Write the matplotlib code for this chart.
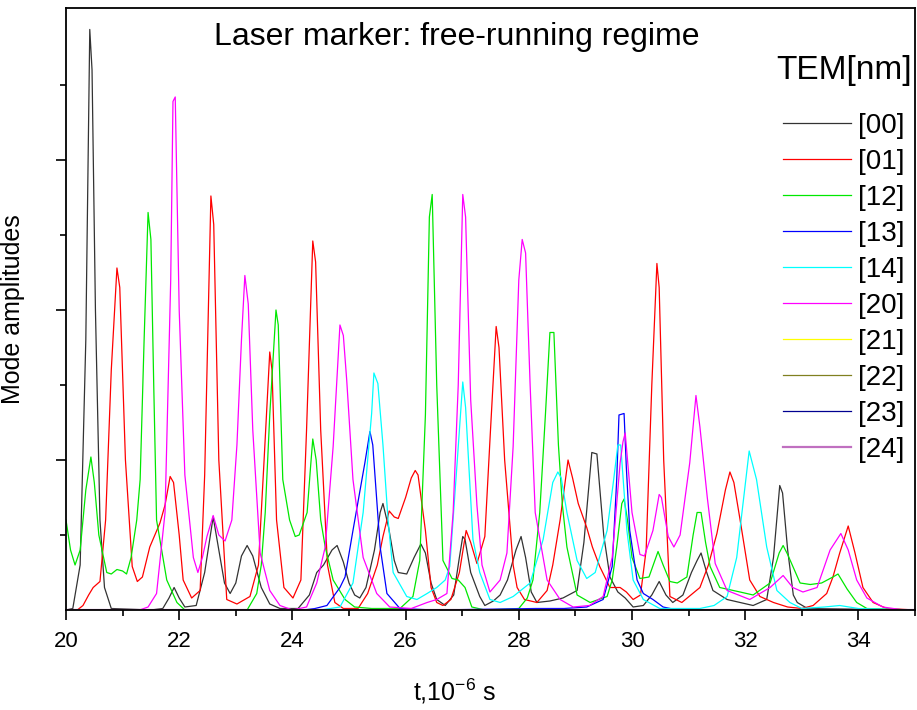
import numpy as np
import matplotlib
matplotlib.use("Agg")
import matplotlib.pyplot as plt

plt.rcParams['font.family'] = ['Liberation Sans', 'DejaVu Sans']
plt.rcParams['mathtext.default'] = 'regular'

# mode labels and colours
modes = ["[00]", "[01]", "[12]", "[13]", "[14]", "[20]", "[21]", "[22]", "[23]", "[24]"]
colors = ["#333333", "#ff0000", "#00e800", "#0000ff", "#00ffff", "#ff00ff",
          "#ffff00", "#808020", "#000090", "#c070c0"]

# [00] (dark curve)
t00 = [20.0, 20.12, 20.25, 20.35, 20.42, 20.46, 20.52, 20.6, 20.68, 20.8, 21.5, 21.71, 21.82, 21.91, 22.0,
       22.1, 22.3, 22.45, 22.6, 22.7, 22.8, 22.9, 23.0, 23.1, 23.2, 23.3, 23.45, 23.6, 23.78, 24.1, 24.3,
       24.43, 24.55, 24.7, 24.79, 24.9, 25.0, 25.1, 25.19, 25.3, 25.45, 25.55, 25.6, 25.7, 25.8, 25.87,
       26.02, 26.15, 26.27, 26.35, 26.45, 26.55, 26.7, 26.85, 26.95, 27.01, 27.05, 27.15, 27.31, 27.4,
       27.55, 27.67, 27.8, 27.95, 28.04, 28.12, 28.22, 28.32, 28.55, 28.78, 29.03, 29.15, 29.29, 29.38,
       29.5, 29.61, 29.75, 29.88, 30.02, 30.2, 30.35, 30.48, 30.6, 30.72, 30.9, 31.05, 31.15, 31.22,
       31.32, 31.43, 31.68, 32.14, 32.38, 32.5, 32.61, 32.66, 32.75, 32.85, 32.92, 33.1, 35.0]
a00 = [0, 0.01, 0.3, 1.8, 3.87, 3.6, 2.0, 0.6, 0.15, 0.01, 0.0, 0.01, 0.08, 0.15, 0.08,
       0.02, 0.03, 0.25, 0.62, 0.4, 0.18, 0.11, 0.18, 0.36, 0.43, 0.36, 0.15, 0.04, 0.01, 0.01, 0.1,
       0.25, 0.3, 0.4, 0.43, 0.32, 0.18, 0.1, 0.08, 0.15, 0.4, 0.65, 0.71, 0.55, 0.33, 0.25,
       0.24, 0.35, 0.44, 0.38, 0.18, 0.07, 0.03, 0.1, 0.35, 0.49, 0.47, 0.25, 0.09, 0.03,
       0.06, 0.1, 0.2, 0.4, 0.49, 0.35, 0.12, 0.05, 0.06, 0.08, 0.13, 0.45, 1.05, 1.04,
       0.5, 0.22, 0.12, 0.08, 0.02, 0.03, 0.1, 0.19, 0.1, 0.05, 0.1, 0.25, 0.33, 0.38,
       0.25, 0.13, 0.07, 0.03, 0.07, 0.35, 0.83, 0.78, 0.4, 0.1, 0.05, 0.01, 0.0]

# [01]
t01 = [20.0, 20.2, 20.3, 20.4, 20.48, 20.6, 20.7, 20.8, 20.9, 20.95, 21.05, 21.17, 21.26, 21.35, 21.48,
       21.66, 21.75, 21.84, 21.9, 22.0, 22.07, 22.22, 22.37, 22.45, 22.56, 22.61, 22.7, 22.84, 23.02,
       23.25, 23.4, 23.5, 23.6, 23.64, 23.72, 23.85, 24.01, 24.15, 24.25, 24.36, 24.41, 24.5, 24.62,
       24.75, 24.9, 25.16, 25.33, 25.5, 25.6, 25.71, 25.8, 25.87, 26.0, 26.1, 26.17, 26.22, 26.35, 26.45,
       26.55, 26.66, 26.8, 26.95, 27.07, 27.15, 27.26, 27.33, 27.4, 27.5, 27.6, 27.65, 27.75, 27.9,
       27.97, 28.1, 28.32, 28.5, 28.6, 28.73, 28.87, 28.95, 29.05, 29.2, 29.3, 29.43, 29.61, 29.79,
       29.9, 30.02, 30.15, 30.25, 30.35, 30.44, 30.48, 30.56, 30.67, 30.88, 31.2, 31.35, 31.5, 31.65,
       31.73, 31.8, 31.91, 32.08, 32.26, 32.5, 32.75, 33.0, 33.2, 33.44, 33.55, 33.67, 33.82, 33.94,
       34.08, 34.26, 34.5, 35.0]
a01 = [0, 0.0, 0.03, 0.1, 0.15, 0.19, 0.6, 1.6, 2.28, 2.15, 1.0, 0.29, 0.19, 0.22, 0.42,
       0.58, 0.7, 0.89, 0.85, 0.5, 0.2, 0.08, 0.13, 0.9, 2.76, 2.57, 1.0, 0.07, 0.04,
       0.09, 0.3, 1.0, 1.72, 1.6, 0.6, 0.15, 0.08, 0.2, 1.2, 2.46, 2.32, 1.2, 0.3,
       0.05, 0.01, 0.01, 0.11, 0.3, 0.49, 0.66, 0.62, 0.61, 0.75, 0.88, 0.93, 0.9, 0.53, 0.15,
       0.05, 0.03, 0.07, 0.25, 0.53, 0.45, 0.31, 0.4, 0.49, 1.2, 1.89, 1.75, 1.0, 0.3,
       0.15, 0.07, 0.05, 0.13, 0.3, 0.6, 1.0, 0.88, 0.71, 0.55, 0.42, 0.29, 0.15, 0.15,
       0.12, 0.07, 0.1, 0.4, 1.5, 2.31, 2.15, 1.0, 0.09, 0.05, 0.15, 0.3, 0.51, 0.8,
       0.92, 0.85, 0.6, 0.2, 0.09, 0.05, 0.02, 0.01, 0.03, 0.11, 0.22, 0.38, 0.56, 0.38,
       0.15, 0.05, 0.01, 0.0]

# [12]
t12 = [20.0, 20.08, 20.16, 20.25, 20.35, 20.44, 20.5, 20.58, 20.72, 20.8, 20.9, 21.0, 21.07, 21.15, 21.25,
       21.31, 21.38, 21.45, 21.5, 21.55, 21.6, 21.78, 21.96, 22.1, 23.2, 23.37, 23.45, 23.52, 23.6, 23.71,
       23.75, 23.83, 23.95, 24.05, 24.12, 24.26, 24.32, 24.36, 24.42, 24.5, 24.58, 24.72, 24.93, 25.1,
       25.4, 25.9, 26.13, 26.25, 26.35, 26.42, 26.47, 26.55, 26.66, 26.82, 26.93, 27.05, 27.17, 27.4,
       28.0, 28.15, 28.25, 28.37, 28.47, 28.55, 28.62, 28.7, 28.77, 28.85, 29.03, 29.26, 29.56, 29.65,
       29.73, 29.82, 29.86, 29.92, 30.0, 30.14, 30.3, 30.46, 30.55, 30.67, 30.8, 30.97, 31.08, 31.15,
       31.22, 31.3, 31.38, 31.55, 31.91, 32.14, 32.44, 32.6, 32.67, 32.75, 32.97, 33.15, 33.35, 33.55,
       33.64, 33.8, 33.97, 34.15, 35.0]
a12 = [0.6, 0.4, 0.3, 0.4, 0.8, 1.02, 0.85, 0.5, 0.25, 0.24, 0.27, 0.26, 0.24, 0.35, 0.6,
       0.87, 1.8, 2.65, 2.47, 1.5, 0.6, 0.2, 0.05, 0.0, 0.0, 0.11, 0.3, 0.65, 1.3, 2.0,
       1.9, 0.87, 0.6, 0.49, 0.5, 0.65, 0.95, 1.14, 1.0, 0.6, 0.42, 0.2, 0.07, 0.02,
       0.01, 0.01, 0.09, 0.33, 1.3, 2.62, 2.77, 1.5, 0.33, 0.21, 0.2, 0.15, 0.02, 0.0,
       0.01, 0.08, 0.2, 0.65, 1.3, 1.85, 1.85, 1.1, 0.7, 0.42, 0.1, 0.05, 0.09, 0.2,
       0.42, 0.71, 0.74, 0.6, 0.35, 0.21, 0.22, 0.39, 0.3, 0.19, 0.18, 0.22, 0.5, 0.65,
       0.65, 0.45, 0.29, 0.15, 0.12, 0.1, 0.18, 0.38, 0.43, 0.37, 0.18, 0.17, 0.18, 0.22,
       0.24, 0.14, 0.05, 0.01, 0.0]

# [13]
t13 = [20.0, 24.2, 24.4, 24.61, 24.84, 24.93, 25.07, 25.28, 25.37, 25.42, 25.55, 25.67, 25.9, 26.5,
       28.3, 28.8, 29.2, 29.49, 29.65, 29.73, 29.77, 29.86, 29.9, 29.96, 30.09, 30.2, 30.37, 30.55,
       30.8, 35.0]
a13 = [0, 0.0, 0.01, 0.03, 0.15, 0.22, 0.53, 0.98, 1.19, 1.1, 0.42, 0.11, 0.01, 0.0,
       0.01, 0.01, 0.02, 0.07, 0.29, 0.87, 1.3, 1.31, 0.95, 0.53, 0.2, 0.11, 0.07, 0.02,
       0.0, 0.0]

# [14]
t14 = [20.0, 24.5, 24.84, 25.07, 25.25, 25.4, 25.44, 25.51, 25.6, 25.69, 25.78, 26.02, 26.2, 26.38,
       26.55, 26.7, 26.78, 26.91, 27.01, 27.06, 27.19, 27.31, 27.49, 27.67, 27.9, 28.2, 28.43, 28.6,
       28.69, 28.75, 28.85, 29.03, 29.2, 29.35, 29.56, 29.67, 29.75, 29.8, 29.91, 30.02, 30.2, 30.49,
       31.2, 31.45, 31.68, 31.85, 32.07, 32.2, 32.38, 32.56, 32.79, 33.0, 33.4, 33.67, 34.0, 35.0]
a14 = [0, 0.0, 0.02, 0.18, 0.65, 1.31, 1.58, 1.51, 1.1, 0.6, 0.25, 0.09, 0.07, 0.11,
       0.15, 0.2, 0.29, 0.98, 1.52, 1.35, 0.47, 0.25, 0.07, 0.05, 0.09, 0.18, 0.47, 0.85,
       0.92, 0.88, 0.65, 0.33, 0.21, 0.25, 0.53, 0.85, 1.1, 1.1, 0.53, 0.2, 0.07, 0.01,
       0.01, 0.03, 0.09, 0.35, 1.06, 0.87, 0.42, 0.13, 0.05, 0.01, 0.02, 0.03, 0.01, 0.0]

# [20]
t20 = [20.0, 21.3, 21.45, 21.6, 21.75, 21.85, 21.89, 21.93, 22.0, 22.1, 22.25, 22.33, 22.41, 22.49,
       22.6, 22.7, 22.81, 22.93, 23.02, 23.1, 23.16, 23.22, 23.3, 23.43, 23.6, 23.78, 24.0, 24.25,
       24.43, 24.58, 24.72, 24.84, 24.9, 24.96, 25.07, 25.25, 25.49, 25.72, 26.1, 26.38, 26.55, 26.73,
       26.84, 26.93, 27.01, 27.06, 27.15, 27.26, 27.35, 27.49, 27.67, 27.79, 27.9, 28.0, 28.06, 28.12,
       28.2, 28.29, 28.5, 28.73, 28.96, 29.25, 29.49, 29.65, 29.79, 29.84, 29.88, 30.0, 30.14, 30.22,
       30.37, 30.48, 30.52, 30.64, 30.74, 30.85, 31.02, 31.13, 31.2, 31.33, 31.47, 31.68, 32.08, 32.44,
       32.67, 32.84, 33.02, 33.27, 33.5, 33.69, 33.82, 33.97, 34.15, 34.43, 34.8, 35.0]
a20 = [0, 0.0, 0.02, 0.11, 0.65, 2.2, 3.39, 3.42, 2.0, 0.9, 0.35, 0.25, 0.35, 0.49,
       0.63, 0.5, 0.46, 0.6, 1.1, 1.8, 2.23, 2.04, 1.2, 0.38, 0.13, 0.03, 0.0, 0.02,
       0.18, 0.42, 1.09, 1.9, 1.83, 1.53, 0.87, 0.35, 0.11, 0.02, 0.01, 0.05, 0.07, 0.11,
       0.65, 1.5, 2.77, 2.62, 1.4, 0.7, 0.3, 0.12, 0.2, 0.38, 1.09, 2.2, 2.47, 2.38,
       1.5, 0.65, 0.2, 0.07, 0.02, 0.03, 0.09, 0.35, 0.98, 1.12, 1.18, 0.65, 0.37, 0.36,
       0.53, 0.77, 0.75, 0.49, 0.42, 0.5, 0.98, 1.43, 1.22, 0.75, 0.31, 0.13, 0.07, 0.15,
       0.23, 0.15, 0.12, 0.15, 0.4, 0.51, 0.4, 0.2, 0.08, 0.02, 0.0, 0.0]

# modes that stay at zero
t_flat = [20.0, 35.0]
a_flat = [0.0, 0.0]

series = [(t00, a00), (t01, a01), (t12, a12), (t13, a13), (t14, a14), (t20, a20),
          (t_flat, a_flat), (t_flat, a_flat), (t_flat, a_flat), (t_flat, a_flat)]

fig = plt.figure(figsize=(9.17, 7.10), dpi=100)
ax = fig.add_axes([66/917, 100/710, 849/917, 602/710])

for (t, a), lab, c in zip(series, modes, colors):
    lw = 1.6 if lab == "[24]" else 0.9
    ax.plot(t, a, color=c, lw=lw, label=lab)

ax.set_xlim(20, 35)
ax.set_ylim(0, 4.013)
ax.set_xticks(np.arange(20, 35, 2))
ax.set_xticks(np.arange(21, 36, 2), minor=True)
ax.set_yticks([1, 2, 3])
ax.set_yticks([0.5, 1.5, 2.5, 3.5], minor=True)
ax.set_yticklabels([])
ax.tick_params(which='major', direction='out', length=7, width=1.2, labelsize=16, pad=8)
ax.tick_params(which='minor', direction='out', length=4, width=1.2)
for s in ax.spines.values():
    s.set_linewidth(1.3)

ax.set_xlabel("t,10$^{-6}$ s", fontsize=18)
ax.xaxis.set_label_coords(0.458, -0.11)
ax.set_ylabel("Mode amplitudes", fontsize=18)
ax.yaxis.set_label_coords(-0.048, 0.5)

ax.text(0.46, 0.952, "Laser marker: free-running regime", transform=ax.transAxes,
        ha='center', va='center', fontsize=23)

# legend title drawn separately to keep its gap to the entries
ax.text(0.996, (610 - 70) / 602, "TEM[nm]", transform=ax.transAxes,
        ha='right', va='center', fontsize=24)

leg = ax.legend(loc='upper right', bbox_to_anchor=(0.988, (610 - 113) / 602), frameon=False,
                fontsize=20, handlelength=2.45, labelspacing=0.36, borderpad=0,
                handletextpad=0.25, borderaxespad=0)

fig.savefig("out.png", dpi=100)
